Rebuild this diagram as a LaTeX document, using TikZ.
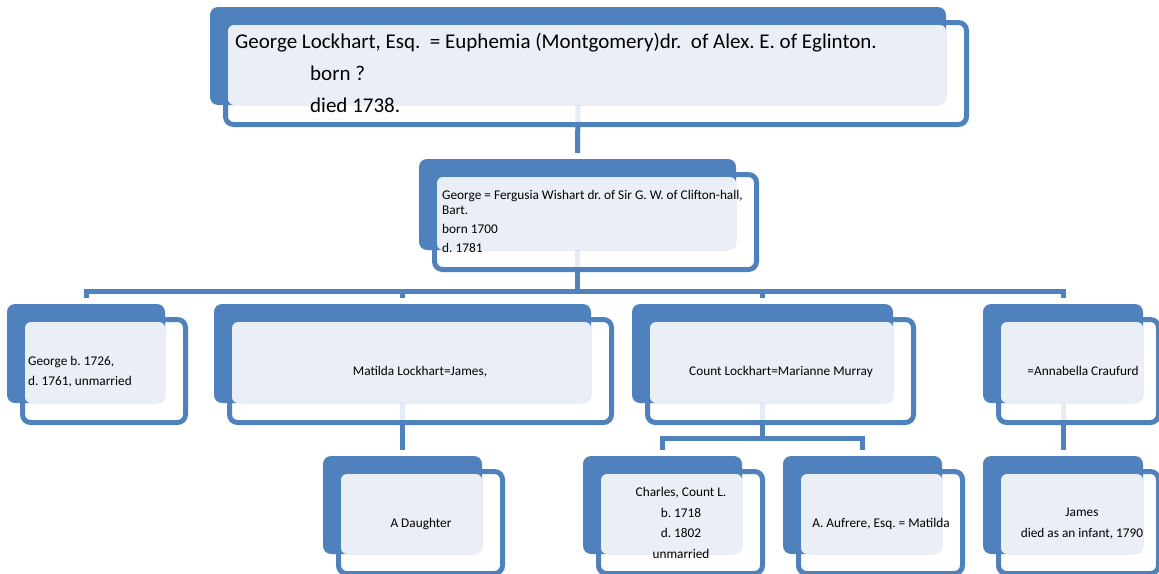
\documentclass[tikz,border=0pt]{standalone}
\usepackage{fontspec}
\setmainfont{Carlito}
\usetikzlibrary{calc}
\definecolor{sablue}{RGB}{79,129,189}
\definecolor{salight}{RGB}{234,239,247}
\pgfdeclarelayer{bg}
\pgfsetlayers{bg,main}
\tikzset{
 bluebox/.style={fill=sablue, rounded corners=8pt, inner sep=0pt, outer sep=0pt, draw=none},
 framebox/.style={draw=sablue, line width=5pt, fill=white, fill opacity=0.85, rounded corners=8pt, inner sep=0pt, outer sep=0pt},
 lightbox/.style={fill=salight, rounded corners=6pt, inner sep=0pt, outer sep=0pt, draw=none},
 conn/.style={draw=sablue, line width=5pt},
 big/.style={font=\fontsize{21}{25}\selectfont, inner sep=0pt, text=black},
 small/.style={font=\fontsize{13.3}{16}\selectfont, inner sep=0pt, text=black},
}
% #1 right extension of frame, #2 name, #3..#6 blue box x1 y1 x2 y2
\newcommand\famnode[6][23]{%
 \node[framebox, minimum width={(#5-#3+#1-18)*1pt}, minimum height={(#6-#4+4)*1pt}] (#2w) at ({(#3+#5+#1+13)/2},{(#4+#6)/2+17.5}) {};
 \node[bluebox, minimum width={(#5-#3)*1pt}, minimum height={(#6-#4)*1pt}] (#2) at ({(#3+#5)/2},{(#4+#6)/2}) {};
 \node[lightbox, minimum width={(#5-#3-18)*1pt}, minimum height={(#6-#4-18)*1pt}] (#2l) at ({(#3+#5)/2+9},{(#4+#6)/2+9}) {};
}
\frenchspacing
\begin{document}
\begin{tikzpicture}[x=1pt,y=-1pt]
\path[use as bounding box] (0,0) rectangle (1159,573);
\clip (0,0) rectangle (1159,573);

\famnode{top}{210}{7}{946}{105}
\famnode{gen}{419}{159}{736}{250}
\famnode{ca}{7}{304}{165}{403}
\famnode{cb}{214}{304}{591}{403}
\famnode{cc}{632}{304}{893}{403}
\famnode[18]{cd}{983}{304}{1143}{403}
\famnode{ge}{323}{456}{482}{554}
\famnode{gf}{583}{456}{742}{554}
\famnode{gg}{783}{456}{942}{554}
\famnode[18]{gh}{983}{456}{1143}{554}

\begin{pgfonlayer}{bg}
\draw[conn] (top.south) -- ([yshift=6pt]gen.north);
\coordinate (bus1) at ($(gen.south |- ca.north)+(0,-13)$);
\draw[conn] (gen.south) -- (bus1);
\draw[conn] ([yshift=6pt]ca.north) |- (bus1) -| ([yshift=6pt]cd.north);
\draw[conn] ([yshift=6pt]cb.north) -- (cb.north |- bus1);
\draw[conn] ([yshift=6pt]cc.north) -- (cc.north |- bus1);
\draw[conn] (cb.south) -- ([yshift=6pt]ge.north);
\coordinate (bus2) at ($(cc.south)+(0,35)$);
\draw[conn] (cc.south) -- (bus2);
\draw[conn] ([yshift=6pt]gf.north) |- (bus2) -| ([yshift=6pt]gg.north);
\draw[conn] (cd.south) -- ([yshift=6pt]gh.north);
\end{pgfonlayer}

\node[big, anchor=base west] (t1) at (235,48) {George Lockhart, Esq.~ = Euphemia (Montgomery)dr.~ of Alex. E. of Eglinton.};
\node[big, anchor=base west] (t2) at (310,80) {born ?};
\node[big, anchor=base west] (t3) at (310,112) {died 1738.};

\node[small, anchor=base west] (g1) at (442,199) {George = Fergusia Wishart dr. of Sir G. W. of Clifton-hall,};
\node[small, anchor=base west] (g2) at (442,214) {Bart.};
\node[small, anchor=base west] (g3) at (442,233) {born 1700};
\node[small, anchor=base west] (g4) at (442,252) {d. 1781};

\node[small, anchor=base west] (a1) at (28,365.5) {George b. 1726,};
\node[small, anchor=base west] (a2) at (28,385.5) {d. 1761, unmarried};
\node[small, anchor=base] (b1) at (420,375) {Matilda Lockhart=James,};
\node[small, anchor=base] (c1) at (781,375) {Count Lockhart=Marianne Murray};
\node[small, anchor=base] (d1) at (1083,375) {=Annabella Craufurd};

\node[small, anchor=base] (e1) at (421,527) {A Daughter};
\node[small, anchor=base] (f1) at (681,496) {Charles, Count L.};
\node[small, anchor=base] (f2) at (681,517) {b. 1718};
\node[small, anchor=base] (f3) at (681,537) {d. 1802};
\node[small, anchor=base] (f4) at (681,558) {unmarried};
\node[small, anchor=base] (h1) at (881,527) {A. Aufrere, Esq. = Matilda};
\node[small, anchor=base] (j1) at (1082,516) {James};
\node[small, anchor=base] (j2) at (1082,537) {died as an infant, 1790};
\end{tikzpicture}
\end{document}
